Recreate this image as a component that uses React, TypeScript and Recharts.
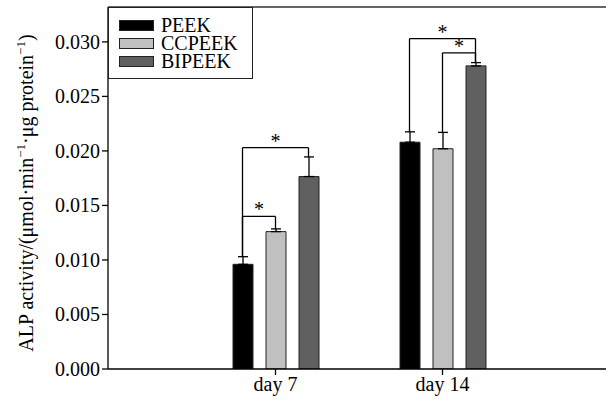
import React from 'react'
import {
  BarChart,
  Bar,
  XAxis,
  YAxis,
  ErrorBar,
  ReferenceLine,
} from 'recharts'

const categories = ['day 7', 'day 14']
const peek = [0.0096, 0.0208]
const peekErr = [0.0007, 0.00095]
const ccpeek = [0.0126, 0.0202]
const ccpeekErr = [0.00025, 0.0015]
const bipeek = [0.01765, 0.0278]
const bipeekErr = [0.0018, 0.0003]
const seriesNames = ['PEEK', 'CCPEEK', 'BIPEEK']
const seriesColors = ['#000000', '#c0c0c0', '#606060']
const yTicks = [0, 0.005, 0.01, 0.015, 0.02, 0.025, 0.03]

// significance brackets: category index, from series, to series, bracket height
const brackets = [
  { cat: 0, from: 0, to: 2, y: 0.0203 },
  { cat: 0, from: 0, to: 1, y: 0.014 },
  { cat: 1, from: 0, to: 2, y: 0.0303 },
  { cat: 1, from: 1, to: 2, y: 0.029 },
]

const FONT = '"Liberation Serif", "Times New Roman", serif'
const Y_MAX = 0.0332
const BAR_SIZE = 20
const BAR_GAP = 13
const BAND_PX = 167

const values = [peek, ccpeek, bipeek]
const errors = [peekErr, ccpeekErr, bipeekErr]

const data = categories.map((name, i) => ({
  name,
  pos: i + 1,
  PEEK: peek[i],
  CCPEEK: ccpeek[i],
  BIPEEK: bipeek[i],
  PEEKErr: [0, peekErr[i]],
  CCPEEKErr: [0, ccpeekErr[i]],
  BIPEEKErr: [0, bipeekErr[i]],
}))

// x position of a bar centre on the hidden numeric axis
const barX = (cat: number, s: number) => cat + 1 + ((s - 1) * (BAR_SIZE + BAR_GAP)) / BAND_PX
const topOf = (cat: number, s: number) => values[s][cat] + errors[s][cat]

function YTick(props: any) {
  const { x, y, payload } = props
  return (
    <text x={x} y={y} dy="0.34em" textAnchor="end" fill="#000" style={{ fontFamily: FONT, fontSize: 20 }}>
      {Number(payload.value).toFixed(3)}
    </text>
  )
}

function XTick(props: any) {
  const { x, y, payload } = props
  return (
    <text x={x} y={y} dy="0.72em" textAnchor="middle" fill="#000" style={{ fontFamily: FONT, fontSize: 20 }}>
      {payload.value}
    </text>
  )
}

function YLabel(props: any) {
  const { viewBox } = props
  const cy = viewBox.y + viewBox.height / 2 + 5
  return (
    <text
      transform={`translate(33,${cy}) rotate(-90)`}
      textAnchor="middle"
      style={{ fontFamily: FONT, fontSize: 20 }}
      fill="#000"
    >
      <tspan>ALP activity/(μmol·min</tspan>
      <tspan dy={-8} style={{ fontSize: 13 }}>−1</tspan>
      <tspan dy={8}>·μg protein</tspan>
      <tspan dy={-8} style={{ fontSize: 13 }}>−1</tspan>
      <tspan dy={8}>)</tspan>
    </text>
  )
}

function LegendBox() {
  return (
    <div
      style={{
        position: 'absolute',
        left: 108,
        top: 7,
        width: 145,
        height: 72,
        border: '1.5px solid #222',
        background: '#fff',
        boxSizing: 'border-box',
        padding: '8px 0 0 10px',
        fontFamily: FONT,
        fontSize: 20,
        lineHeight: '18px',
      }}
    >
      {seriesNames.map((n, i) => (
        <div key={n} style={{ display: 'flex', alignItems: 'center', height: 18 }}>
          <span
            style={{
              display: 'inline-block',
              width: 33,
              height: 9,
              background: seriesColors[i],
              border: '1px solid #222',
              marginRight: 7,
            }}
          />
          <span>{n}</span>
        </div>
      ))}
    </div>
  )
}

export default function App() {
  return (
    <div
      style={{
        position: 'absolute',
        left: 0,
        top: 0,
        width: 606,
        height: 403,
        background: '#fff',
        fontFamily: FONT,
      }}
    >
      <BarChart
        width={606}
        height={403}
        data={data}
        margin={{ top: 7, right: 0, left: 0, bottom: 4 }}
        barSize={BAR_SIZE}
        barGap={BAR_GAP}
      >
        <XAxis
          dataKey="name"
          padding={{ left: 84, right: 80 }}
          height={30}
          tickSize={6}
          stroke="#000"
          strokeWidth={1.3}
          tick={<XTick />}
        />
        <XAxis
          xAxisId="ann"
          dataKey="pos"
          type="number"
          domain={[0.5, 2.5]}
          allowDataOverflow
          padding={{ left: 84, right: 80 }}
          hide
        />
        <YAxis
          width={108}
          domain={[0, Y_MAX]}
          ticks={yTicks}
          allowDataOverflow
          tickSize={6}
          stroke="#000"
          strokeWidth={1.3}
          tick={<YTick />}
          label={{ content: YLabel }}
        />
        <ReferenceLine y={Y_MAX} stroke="#333" strokeWidth={1.5} />
        {seriesNames.map((n, i) => (
          <Bar
            key={n}
            dataKey={n}
            fill={seriesColors[i]}
            stroke="#222"
            strokeWidth={1}
            isAnimationActive={false}
          >
            <ErrorBar dataKey={`${n}Err`} direction="y" width={5} stroke="#000" strokeWidth={1.3} />
          </Bar>
        ))}
        {brackets.map((b, i) => (
          <ReferenceLine
            key={`l${i}`}
            xAxisId="ann"
            ifOverflow="visible"
            segment={[
              { x: barX(b.cat, b.from), y: topOf(b.cat, b.from) },
              { x: barX(b.cat, b.from), y: b.y },
            ]}
            stroke="#000"
            strokeWidth={1.3}
          />
        ))}
        {brackets.map((b, i) => (
          <ReferenceLine
            key={`r${i}`}
            xAxisId="ann"
            ifOverflow="visible"
            segment={[
              { x: barX(b.cat, b.to), y: topOf(b.cat, b.to) },
              { x: barX(b.cat, b.to), y: b.y },
            ]}
            stroke="#000"
            strokeWidth={1.3}
          />
        ))}
        {brackets.map((b, i) => (
          <ReferenceLine
            key={`h${i}`}
            xAxisId="ann"
            ifOverflow="visible"
            segment={[
              { x: barX(b.cat, b.from), y: b.y },
              { x: barX(b.cat, b.to), y: b.y },
            ]}
            stroke="#000"
            strokeWidth={1.3}
            label={{ value: '*', position: 'top', offset: 0, fontSize: 20, style: { fontFamily: FONT }, fill: '#000' }}
          />
        ))}
      </BarChart>
      <LegendBox />
    </div>
  )
}
